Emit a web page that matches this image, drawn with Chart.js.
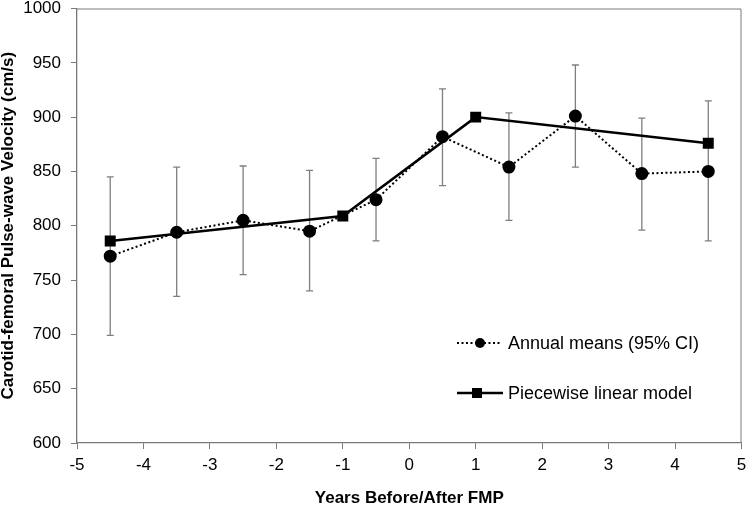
<!DOCTYPE html>
<html>
<head>
<meta charset="utf-8">
<script src="https://cdn.jsdelivr.net/npm/chart.js@4"></script>
<style>
  html, body { margin: 0; padding: 0; background: #fff; }
  #wrap { width: 750px; height: 505px; }
</style>
</head>
<body>
<div id="wrap"><canvas id="chart" width="750" height="505"></canvas></div>
<script>
// annual means with 95% CI
const meanYears = [-4.5, -3.5, -2.5, -1.5, -0.5, 0.5, 1.5, 2.5, 3.5, 4.5];
const meanValues = [772, 794, 805, 795, 824, 882, 854, 901, 848, 850];
const ciLow = [699, 735, 755, 740, 786, 837, 805, 854, 796, 786];
const ciHigh = [845, 854, 855, 851, 862, 926, 904, 948, 899, 915];

// piecewise linear model
const modelYears = [-4.5, -1, 1, 4.5];
const modelValues = [786, 809, 900, 876];

const xTicks = [-5, -4, -3, -2, -1, 0, 1, 2, 3, 4, 5];
const seriesNames = ["Annual means (95% CI)", "Piecewise linear model"];

const FONT = "'Liberation Sans', Arial, sans-serif";
const AXIS_GREY = "#7a7a7a";

const errorBars = {
  id: "errorBars",
  beforeDatasetsDraw(chart) {
    const { ctx, scales: { x, y } } = chart;
    ctx.save();
    ctx.strokeStyle = "#7f7f7f";
    ctx.lineWidth = 1.3;
    meanYears.forEach((yr, i) => {
      const px = x.getPixelForValue(yr);
      const top = y.getPixelForValue(ciHigh[i]);
      const bot = y.getPixelForValue(ciLow[i]);
      ctx.beginPath();
      ctx.moveTo(px, top); ctx.lineTo(px, bot);
      ctx.moveTo(px - 3.5, top); ctx.lineTo(px + 3.5, top);
      ctx.moveTo(px - 3.5, bot); ctx.lineTo(px + 3.5, bot);
      ctx.stroke();
    });
    ctx.restore();
  }
};

const frame = {
  id: "frame",
  afterDraw(chart) {
    const { ctx, chartArea: a } = chart;
    ctx.save();
    ctx.strokeStyle = AXIS_GREY;
    ctx.lineWidth = 1;
    ctx.beginPath();
    ctx.moveTo(a.left, a.top + 0.5);
    ctx.lineTo(a.right - 0.5, a.top + 0.5);
    ctx.lineTo(a.right - 0.5, a.bottom);
    ctx.stroke();

    // legend inside plot
    const lx = 457, rows = [343, 393];
    ctx.fillStyle = "#000";
    ctx.strokeStyle = "#000";
    ctx.font = "18px " + FONT;
    ctx.textBaseline = "middle";
    // dotted + circle
    ctx.lineWidth = 2;
    ctx.setLineDash([2, 2.5]);
    ctx.beginPath();
    ctx.moveTo(lx, rows[0]); ctx.lineTo(lx + 43, rows[0]);
    ctx.stroke();
    ctx.setLineDash([]);
    ctx.beginPath();
    ctx.arc(lx + 23, rows[0], 5, 0, Math.PI * 2);
    ctx.fill();
    ctx.fillText(seriesNames[0], lx + 51, rows[0] + 1);
    // solid + square
    ctx.lineWidth = 2.5;
    ctx.beginPath();
    ctx.moveTo(lx, rows[1]); ctx.lineTo(lx + 46, rows[1]);
    ctx.stroke();
    ctx.fillRect(lx + 15, rows[1] - 5, 10, 10);
    ctx.fillText(seriesNames[1], lx + 51, rows[1] + 1);
    ctx.restore();
  }
};

new Chart(document.getElementById("chart").getContext("2d"), {
  type: "scatter",
  data: {
    datasets: [
      {
        label: seriesNames[0],
        data: meanYears.map((yr, i) => ({ x: yr, y: meanValues[i] })),
        showLine: true,
        borderColor: "#000",
        backgroundColor: "#000",
        borderWidth: 2,
        borderDash: [2, 2.5],
        pointStyle: "circle",
        pointRadius: 5.5,
        pointHoverRadius: 5.5
      },
      {
        label: seriesNames[1],
        data: modelYears.map((yr, i) => ({ x: yr, y: modelValues[i] })),
        showLine: true,
        borderColor: "#000",
        backgroundColor: "#000",
        borderWidth: 2.5,
        pointStyle: "rect",
        pointRadius: 6,
        pointHoverRadius: 6
      }
    ]
  },
  options: {
    responsive: false,
    animation: false,
    layout: { padding: { top: 7, right: 5, left: 0, bottom: 0 } },
    plugins: {
      legend: { display: false },
      tooltip: { enabled: false }
    },
    scales: {
      x: {
        type: "linear",
        min: -5,
        max: 5,
        afterBuildTicks: (axis) => { axis.ticks = xTicks.map(v => ({ value: v })); },
        grid: { drawOnChartArea: false, color: AXIS_GREY, tickLength: 6 },
        border: { color: AXIS_GREY, width: 1.3 },
        ticks: { color: "#000", font: { family: FONT, size: 17 }, padding: 6, maxRotation: 0 },
        title: {
          display: true,
          text: "Years Before/After FMP",
          color: "#000",
          font: { family: FONT, size: 17, weight: "bold", lineHeight: 1 },
          padding: { top: 10, bottom: -2 }
        },
        afterFit: (axis) => {
          axis.height = 62;
          axis.paddingLeft = 0;
          axis.paddingRight = 0;
        }
      },
      y: {
        min: 600,
        max: 1000,
        ticks: {
          stepSize: 50,
          color: "#000",
          font: { family: FONT, size: 17 },
          padding: 10,
          callback: (v) => String(v)
        },
        grid: { drawOnChartArea: false, color: AXIS_GREY, tickLength: 6 },
        border: { color: AXIS_GREY, width: 1.3 },
        title: {
          display: true,
          text: "Carotid-femoral Pulse-wave Velocity (cm/s)",
          color: "#000",
          font: { family: FONT, size: 17, weight: "bold", lineHeight: 1 },
          padding: { top: 0, bottom: 4 }
        },
        afterFit: (axis) => {
          axis.width = 77;
          axis.paddingTop = 0;
          axis.paddingBottom = 0;
        }
      }
    }
  },
  plugins: [errorBars, frame]
});
</script>
</body>
</html>
